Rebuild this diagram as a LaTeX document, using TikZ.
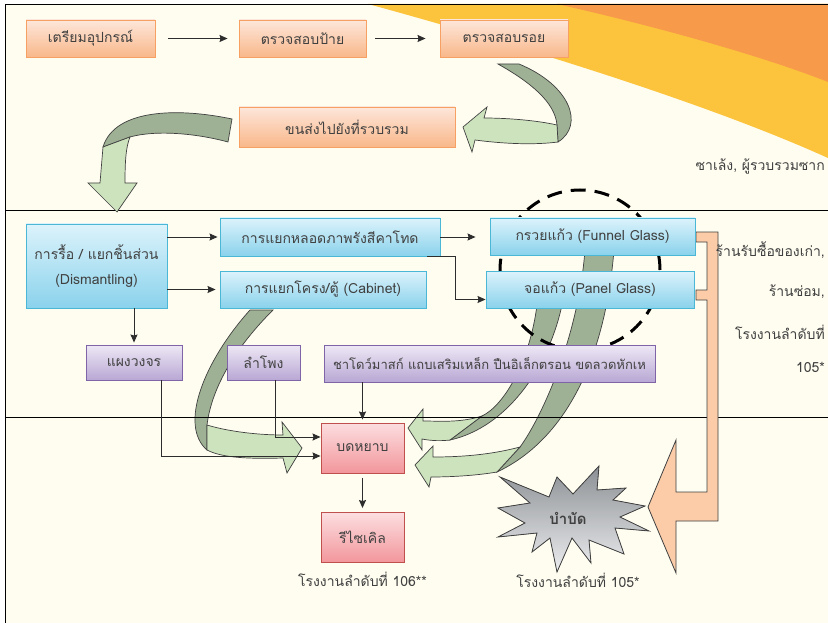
\documentclass[tikz,border=0pt]{standalone}
\usepackage{fontspec}
\newfontfamily\thai[Script=Thai]{Loma}
\definecolor{PageCream}{RGB}{255,253,240}
\definecolor{SwOrange}{RGB}{247,154,74}
\definecolor{SwYellow}{RGB}{252,196,61}
\definecolor{OrangeTop}{RGB}{253,230,218}
\definecolor{OrangeBot}{RGB}{249,184,138}
\definecolor{OrangeEdge}{RGB}{246,160,100}
\definecolor{BlueTop}{RGB}{220,243,251}
\definecolor{BlueBot}{RGB}{138,210,236}
\definecolor{BlueEdge}{RGB}{75,183,214}
\definecolor{PurpleTop}{RGB}{238,232,245}
\definecolor{PurpleBot}{RGB}{184,167,212}
\definecolor{PurpleEdge}{RGB}{128,100,168}
\definecolor{RedTop}{RGB}{252,222,224}
\definecolor{RedBot}{RGB}{242,150,155}
\definecolor{RedEdge}{RGB}{192,80,77}
\definecolor{BandDark}{RGB}{158,177,148}
\definecolor{BandLight}{RGB}{205,227,189}
\definecolor{Peach}{RGB}{251,204,167}
\definecolor{StarTop}{RGB}{140,144,148}
\definecolor{StarBot}{RGB}{236,237,239}
\definecolor{TextGray}{RGB}{64,64,64}
\definecolor{LineGray}{RGB}{45,45,45}
\usetikzlibrary{arrows.meta,positioning}

\begin{document}
\begin{tikzpicture}[x=1pt,y=-1pt,
    flow/.style={draw=LineGray,line width=1pt,-{Stealth[length=8pt,width=7pt,inset=1pt]}},
    stepbox/.style={inner sep=0pt,line width=0.9pt,align=center,text=TextGray,
                    font=\thai\fontsize{14}{17}\selectfont},
    orangebox/.style={stepbox,draw=OrangeEdge,top color=OrangeTop,bottom color=OrangeBot,minimum height=37pt},
    bluebox/.style={stepbox,draw=BlueEdge,top color=BlueTop,bottom color=BlueBot,minimum height=37pt},
    purplebox/.style={stepbox,draw=PurpleEdge,top color=PurpleTop,bottom color=PurpleBot,minimum height=35pt},
    redbox/.style={stepbox,draw=RedEdge,top color=RedTop,bottom color=RedBot,minimum width=83pt,minimum height=50pt},
    note/.style={inner sep=0pt,text=TextGray,font=\thai\fontsize{14}{17}\selectfont},
    backband/.style={fill=BandDark,draw=black!75,line width=0.7pt},
    frontband/.style={fill=BandLight,draw=black!75,line width=0.7pt}]
    \useasboundingbox (0,0) rectangle (828,623);
    \fill[PageCream] (5,4) rectangle (828,623);
    \fill[SwYellow] (368,4) .. controls (500,40) and (700,100) .. (828,158) -- (828,4) -- cycle;
    \fill[SwOrange] (557,4) .. controls (650,25) and (760,55) .. (828,82) -- (828,4) -- cycle;
    \draw[line width=0.8pt] (5,623) -- (5,4) -- (828,4);
    \draw[line width=0.8pt] (5,210) -- (828,210);

    \filldraw[backband] (498,64) .. controls (530,82) and (555,102) .. (557,125) -- (558,142)
        .. controls (585,125) and (570,85) .. (519,64) -- cycle;
    \filldraw[frontband] (557,125) .. controls (535,120) and (505,118) .. (484,118) -- (487,107) -- (463,127)
        -- (472,152) -- (475,140) .. controls (505,144) and (535,145) .. (558,142) -- cycle;
    \filldraw[backband] (232,119) .. controls (180,108) and (115,108) .. (103,147) -- (130,137)
        .. controls (155,130) and (195,133) .. (228,142) -- cycle;
    \filldraw[frontband] (103,147) -- (100,183) -- (88,183) -- (117,212) -- (137,183) -- (125,183)
        .. controls (125,160) and (126,147) .. (130,137) -- cycle;
    \filldraw[backband] (250,310) .. controls (205,360) and (178,425) .. (207,450) -- (207,425)
        .. controls (212,385) and (238,345) .. (273,310) -- cycle;
    \filldraw[frontband] (207,425) .. controls (230,432) and (260,435) .. (283,435) -- (282,422) -- (302,448)
        -- (287,473) -- (283,458) .. controls (250,459) and (222,458) .. (207,450) -- cycle;
    \filldraw[backband] (537,305) .. controls (530,360) and (505,405) .. (482,416) -- (450,440)
        .. controls (505,428) and (548,370) .. (562,305) -- cycle;
    \filldraw[frontband] (482,416) .. controls (460,423) and (440,421) .. (423,421) -- (423,409) -- (408,428)
        -- (422,450) -- (422,439) .. controls (432,441) and (442,441) .. (450,440) -- cycle;
    \filldraw[backband] (585,250) .. controls (578,340) and (540,420) .. (520,447) -- (497,472)
        .. controls (565,440) and (605,360) .. (614,250) -- cycle;
    \filldraw[frontband] (520,447) .. controls (490,455) and (460,457) .. (433,457) -- (433,446) -- (415,465)
        -- (429,487) -- (431,477) .. controls (455,477) and (480,475) .. (497,472) -- cycle;
    \draw[line width=0.8pt] (5,417) -- (828,417);

    \filldraw[fill=Peach,draw=black!75,line width=0.8pt] (696,232) -- (718,232) -- (718,521) -- (676,521)
        -- (676,573) -- (648,507) -- (676,440) -- (676,492) -- (707,492) -- (707,300) -- (696,300)
        -- (696,290) -- (707,290) -- (707,242) -- (696,242) -- cycle;
    \draw[line width=3pt,dash pattern=on 15pt off 9pt] (580,270) circle (80pt);

    \node[orangebox,minimum width=129pt] (prep)      at (90.5,38.5) {เตรียมอุปกรณ์};
    \node[orangebox,minimum width=127pt] (tag)       at (302.5,38.5) {ตรวจสอบป้าย};
    \node[orangebox,minimum width=128pt] (crack)     at (504,38.5) {ตรวจสอบรอย};
    \node[orangebox,minimum width=216pt,minimum height=40pt] (transport) at (347,127) {ขนส่งไปยังที่รวบรวม};
    \node[bluebox,minimum width=141pt,minimum height=84pt] (dismantle) at (96.5,266)
        {การรื้อ / แยกชิ้นส่วน\\[8pt](Dismantling)};
    \node[bluebox,minimum width=220pt,minimum height=38pt] (crt) at (330,237) {การแยกหลอดภาพรังสีคาโทด};
    \node[bluebox,minimum width=206pt] (cabinet) at (323,289.5) {การแยกโครง/ตู้ (Cabinet)};
    \node[bluebox,minimum width=205pt] (funnel)  at (592.5,236.5) {กรวยแก้ว (Funnel Glass)};
    \node[bluebox,minimum width=208pt] (panel)   at (590,289.5) {จอแก้ว (Panel Glass)};
    \node[purplebox,minimum width=96pt]  (pcb)     at (134,362.5) {แผงวงจร};
    \node[purplebox,minimum width=73pt]  (speaker) at (263.5,362.5) {ลำโพง};
    \node[purplebox,minimum width=331pt,minimum height=37pt,font=\thai\fontsize{13}{16}\selectfont] (parts)
        at (489.5,363.5) {ชาโดว์มาสก์ แถบเสริมเหล็ก ปืนอิเล็กตรอน ขดลวดหักเห};
    \node[redbox] (crush)   at (362.5,448) {บดหยาบ};
    \node[redbox] (recycle) at (362.5,537.5) {รีไซเคิล};

    \draw[flow,shorten <=13pt,shorten >=11pt] (prep) -- (tag);
    \draw[flow,shorten <=9pt,shorten >=14pt] (tag) -- (crack);
    \draw[flow,shorten >=2pt] (dismantle.east |- crt.west) -- (crt.west);
    \draw[flow,shorten >=4pt] (dismantle.east |- cabinet.west) -- (cabinet.west);
    \draw[flow,shorten >=14pt] (crt.east) -- (crt.east -| funnel.west);
    \draw[flow] ([xshift=-13pt]crt.south east) -- ++(28,0) |- ([yshift=-10pt]panel.west);
    \draw[flow,shorten >=2pt] (pcb.north |- dismantle.south) -- (pcb.north);
    \draw[flow,shorten >=3pt] (crush.north |- parts.south) -- (crush.north);
    \draw[flow] ([xshift=27pt]pcb.south) |- ([yshift=-8pt]crush.west);
    \draw[flow] ([xshift=11.5pt]speaker.south) |- ([yshift=11pt]crush.west);
    \draw[flow,shorten <=5pt,shorten >=4pt] (crush) -- (recycle);

    \filldraw[top color=StarTop,bottom color=StarBot,draw=black!75,line width=0.8pt]
        (599,466) -- (597,490) -- (626,488) -- (613,500) -- (645,506) -- (620,517) -- (649,531)
        -- (615,528) -- (624,554) -- (589,540) -- (591,563) -- (572,538) -- (557,572) -- (550,538)
        -- (532,552) -- (537,533) -- (498,537) -- (525,523) -- (498,508) -- (530,503) -- (500,477)
        -- (549,497) -- (557,477) -- (573,494) -- cycle;
    \node[note,font=\thai\bfseries\fontsize{15}{17}\selectfont] (treat) at (568,518) {บำบัด};

    \node[note,below=9pt of recycle] (plant106) {โรงงานลำดับที่ 106**};
    \node[note] (plant105) at (578,580) {โรงงานลำดับที่ 105*};
    \node[note,anchor=east] (collector) at (825,166) {ซาเล้ง, ผู้รวบรวมซาก};
    \foreach \t/\y/\n in {{ร้านรับซื้อของเก่า,}/250/shopA,{ร้านซ่อม,}/292/shopB,{โรงงานลำดับที่}/332/shopC,{105*}/367/shopD}
      \node[note,anchor=east] (\n) at (825,\y) {\t};
  \end{tikzpicture}
\end{document}
